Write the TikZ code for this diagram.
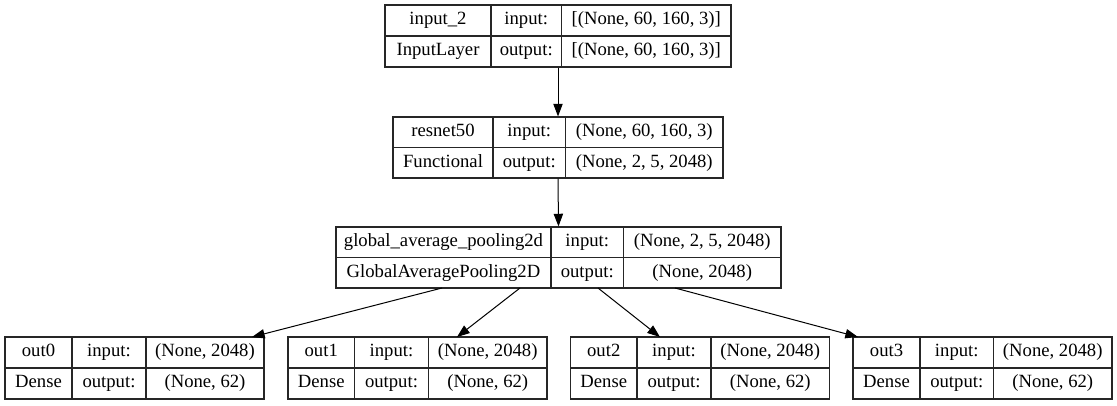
\documentclass[tikz,border=0pt]{standalone}
\usepackage{fontspec}
\setmainfont{Liberation Serif}
\newfontfamily\kfont{Liberation Serif}
\usetikzlibrary{arrows.meta,fit}
\tikzset{
  boxframe/.style={draw=black!85, line width=0.85pt, inner sep=0pt},
  cellline/.style={draw=black!85, line width=0.85pt},
  celltext/.style={inner sep=0pt, font=\kfont\fontsize{14}{16}\selectfont},
  arr/.style={draw=black, line width=0.75pt, -{Triangle[length=9.5pt,width=7pt]}, shorten >=0pt}
}
% #1 name, #2 x0, #3 d1, #4 d2, #5 x1, #6 y0, #7 y1
\newcommand\kframe[7]{%
  \node[boxframe, fit={(#2,#6) (#5,#7)}] (#1) {};
  \draw[cellline] (#3,#6) -- (#3,#7);
  \draw[cellline] (#4,#6) -- (#4,#7);
  \draw[cellline] (#2,{(#6+#7)/2}) -- (#5,{(#6+#7)/2});
  \coordinate (#1-a) at ({(#2+#3)/2},{(3*#6+#7)/4});
  \coordinate (#1-b) at ({(#3+#4)/2},{(3*#6+#7)/4});
  \coordinate (#1-c) at ({(#4+#5)/2},{(3*#6+#7)/4});
  \coordinate (#1-d) at ({(#2+#3)/2},{(#6+3*#7)/4});
  \coordinate (#1-e) at ({(#3+#4)/2},{(#6+3*#7)/4});
  \coordinate (#1-f) at ({(#4+#5)/2},{(#6+3*#7)/4});
}
% #1 name, #2 layer, #3 type, #4 in shape, #5 out shape
\newcommand\ktexts[5]{%
  \node[celltext] (#1-ta) at (#1-a) {\strut #2};
  \node[celltext] (#1-tb) at (#1-b) {\strut input:};
  \node[celltext] (#1-tc) at (#1-c) {\strut #4};
  \node[celltext] (#1-td) at (#1-d) {\strut #3};
  \node[celltext] (#1-te) at (#1-e) {\strut output:};
  \node[celltext] (#1-tf) at (#1-f) {\strut #5};
}
\begin{document}
\begin{tikzpicture}[x=0.75pt,y=-0.75pt]
\useasboundingbox (0,0) rectangle (1117,405);
\fill[white] (0,0) rectangle (1117,405);

\kframe{inp}{385}{491}{561.5}{731}{5}{67}
\ktexts{inp}{input\_2}{InputLayer}{[(None, 60, 160, 3)]}{[(None, 60, 160, 3)]}

\kframe{res}{393}{493}{565.5}{723}{117}{178}
\ktexts{res}{resnet50}{Functional}{(None, 60, 160, 3)}{(None, 2, 5, 2048)}

\kframe{gap}{336}{551}{623.5}{781}{227}{288}
\ktexts{gap}{global\_average\_pooling2d}{GlobalAveragePooling2D}{(None, 2, 5, 2048)}{(None, 2048)}

\kframe{o0}{5}{72}{146}{264}{337}{399}
\ktexts{o0}{out0}{Dense}{(None, 2048)}{(None, 62)}

\kframe{o1}{288}{354.5}{428.5}{547}{337}{399}
\ktexts{o1}{out1}{Dense}{(None, 2048)}{(None, 62)}

\kframe{o2}{570.5}{637}{711}{829.5}{337}{399}
\ktexts{o2}{out2}{Dense}{(None, 2048)}{(None, 62)}

\kframe{o3}{853}{920}{993.5}{1112}{337}{399}
\ktexts{o3}{out3}{Dense}{(None, 2048)}{(None, 62)}

\coordinate (g0) at (442,288);
\coordinate (g1) at (520,288);
\coordinate (g2) at (598,288);
\coordinate (g3) at (675,288);
\coordinate (t0) at (252,337);
\coordinate (t1) at (457,337);
\coordinate (t2) at (660,337);
\coordinate (t3) at (858,337);

\draw[arr] (inp.south) -- (res.north);
\draw[arr] (res.south) -- (gap.north);
\draw[arr] (g0) -- (t0);
\draw[arr] (g1) -- (t1);
\draw[arr] (g2) -- (t2);
\draw[arr] (g3) -- (t3);
\end{tikzpicture}
\end{document}
